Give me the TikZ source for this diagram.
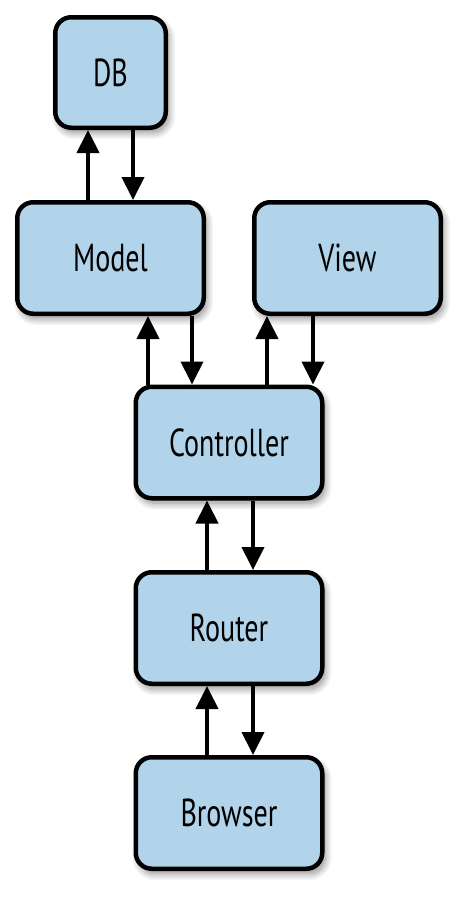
\documentclass[tikz,border=0pt]{standalone}
\usepackage{fontspec}
\setmainfont[FakeStretch=0.72]{PT Sans}
\usetikzlibrary{arrows.meta,shadows.blur}
\definecolor{boxblue}{RGB}{178,212,234}
\tikzset{
  box/.style={draw=black, line width=4.5pt, fill=boxblue, rounded corners=16pt,
    minimum width=186.5pt, minimum height=111.5pt, inner sep=0pt,
    font=\fontsize{39}{42}\selectfont,
    blur shadow={shadow xshift=3pt, shadow yshift=-5pt, shadow blur radius=7pt, shadow blur steps=12, shadow opacity=45}},
  smallbox/.style={box, minimum width=110.5pt, minimum height=110.5pt},
  arr/.style={line width=4pt, -{Triangle[length=23pt,width=22pt]}}
}
\begin{document}
\begin{tikzpicture}[x=1pt,y=-1pt]
\useasboundingbox (0,0) rectangle (473,902);
\node[smallbox] (db) at (110.5,72.5) {DB};
\node[box] (model) at (110.5,258) {Model};
\node[box] (view) at (347.5,258) {View};
\node[box] (ctrl) at (229,442.5) {Controller};
\node[box] (router) at (229,628) {Router};
\node[box] (browser) at (229,813) {Browser};
% DB <-> Model
\draw[arr] (model.north -| 88,0) -- (db.south -| 88,0);
\draw[arr] (db.south -| 133,0) -- (model.north -| 133,0);
% Model <-> Controller
\draw[arr] (ctrl.north -| 148,0) -- (model.south -| 148,0);
\draw[arr] (model.south -| 192,0) -- (ctrl.north -| 192,0);
% View <-> Controller
\draw[arr] (ctrl.north -| 267,0) -- (view.south -| 267,0);
\draw[arr] (view.south -| 313,0) -- (ctrl.north -| 313,0);
% Controller <-> Router
\draw[arr] (router.north -| 207,0) -- (ctrl.south -| 207,0);
\draw[arr] (ctrl.south -| 253,0) -- (router.north -| 253,0);
% Router <-> Browser
\draw[arr] (browser.north -| 207,0) -- (router.south -| 207,0);
\draw[arr] (router.south -| 253,0) -- (browser.north -| 253,0);
\end{tikzpicture}
\end{document}
